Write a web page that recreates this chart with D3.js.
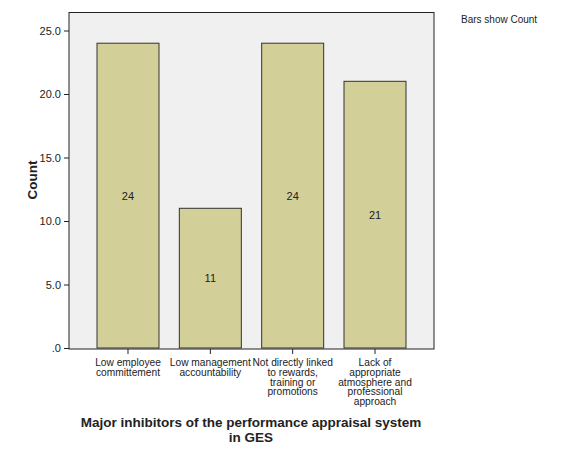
<!DOCTYPE html>
<html>
<head>
<meta charset="utf-8">
<script src="https://cdn.jsdelivr.net/npm/d3@7"></script>
<style>
body { margin: 0; background: #fff; }
text { font-family: "Liberation Sans", Arial, sans-serif; fill: #222; }
</style>
</head>
<body>
<div id="chart"></div>
<script>
var categories = [
    ["Low employee", "committement"],
    ["Low management", "accountability"],
    ["Not directly linked", "to rewards,", "training or", "promotions"],
    ["Lack of", "appropriate", "atmosphere and", "professional", "approach"]
];
var counts = [24, 11, 24, 21];
var yTicks = [0, 5, 10, 15, 20, 25];

var width = 580, height = 464;
var plot = { left: 69, top: 12.5, right: 434, bottom: 349 };

var svg = d3.select("#chart")
    .append("svg")
    .attr("width", width)
    .attr("height", height);

var x = d3.scaleBand()
    .domain(d3.range(counts.length))
    .range([plot.left, plot.right])
    .paddingInner(0.247)
    .paddingOuter(0.34);

var y = d3.scaleLinear()
    .domain([0, 26.5])
    .range([plot.bottom - 1, plot.bottom - 1 - 26.5 * 12.7]);

// plot background
svg.append("rect")
    .attr("x", plot.left)
    .attr("y", plot.top)
    .attr("width", plot.right - plot.left)
    .attr("height", plot.bottom - plot.top)
    .attr("fill", "#f0f0f0")
    .attr("stroke", "#222")
    .attr("stroke-width", 1);

// bars
svg.selectAll(".bar")
    .data(counts)
    .enter().append("rect")
    .attr("class", "bar")
    .attr("x", (d, i) => x(i))
    .attr("y", d => y(d))
    .attr("width", x.bandwidth())
    .attr("height", d => y(0) - y(d))
    .attr("fill", "#d3cf98")
    .attr("stroke", "#333")
    .attr("stroke-width", 1);

// value labels
svg.selectAll(".val")
    .data(counts)
    .enter().append("text")
    .attr("class", "val")
    .attr("x", (d, i) => x(i) + x.bandwidth() / 2)
    .attr("y", d => (y(d) + y(0)) / 2 + 4)
    .attr("text-anchor", "middle")
    .attr("font-size", 11)
    .text(d => d);

// y axis
var yAxis = d3.axisLeft(y)
    .tickValues(yTicks)
    .tickSize(5)
    .tickFormat(d => d === 0 ? ".0" : d3.format(".1f")(d));
var gy = svg.append("g")
    .attr("transform", "translate(" + plot.left + ",0)")
    .call(yAxis);
gy.select(".domain").remove();
gy.selectAll(".tick line").attr("stroke", "#222");
gy.selectAll(".tick text").attr("font-size", 11).attr("fill", "#222")
    .attr("font-family", "Liberation Sans, Arial, sans-serif");

// x axis
var xAxis = d3.axisBottom(x).tickSize(5).tickFormat("");
var gx = svg.append("g")
    .attr("transform", "translate(0," + plot.bottom + ")")
    .call(xAxis);
gx.select(".domain").remove();
gx.selectAll(".tick line").attr("stroke", "#222");

// category labels
categories.forEach(function (lines, i) {
    var t = svg.append("text")
        .attr("x", x(i) + x.bandwidth() / 2)
        .attr("y", plot.bottom + 17)
        .attr("text-anchor", "middle")
        .attr("font-size", 10.2);
    lines.forEach(function (line, j) {
        t.append("tspan")
            .attr("x", x(i) + x.bandwidth() / 2)
            .attr("dy", j === 0 ? 0 : 9.8)
            .text(line);
    });
});

// axis titles
svg.append("text")
    .attr("transform", "translate(37,180) rotate(-90)")
    .attr("text-anchor", "middle")
    .attr("font-size", 13.5)
    .attr("font-weight", "bold")
    .text("Count");

svg.append("text")
    .attr("x", 251)
    .attr("y", 427)
    .attr("text-anchor", "middle")
    .attr("font-size", 13.5)
    .attr("font-weight", "bold")
    .text("Major inhibitors of the performance appraisal system");
svg.append("text")
    .attr("x", 251)
    .attr("y", 442)
    .attr("text-anchor", "middle")
    .attr("font-size", 13.5)
    .attr("font-weight", "bold")
    .text("in GES");

// note
svg.append("text")
    .attr("x", 461)
    .attr("y", 23)
    .attr("font-size", 10)
    .text("Bars show Count");
</script>
</body>
</html>
